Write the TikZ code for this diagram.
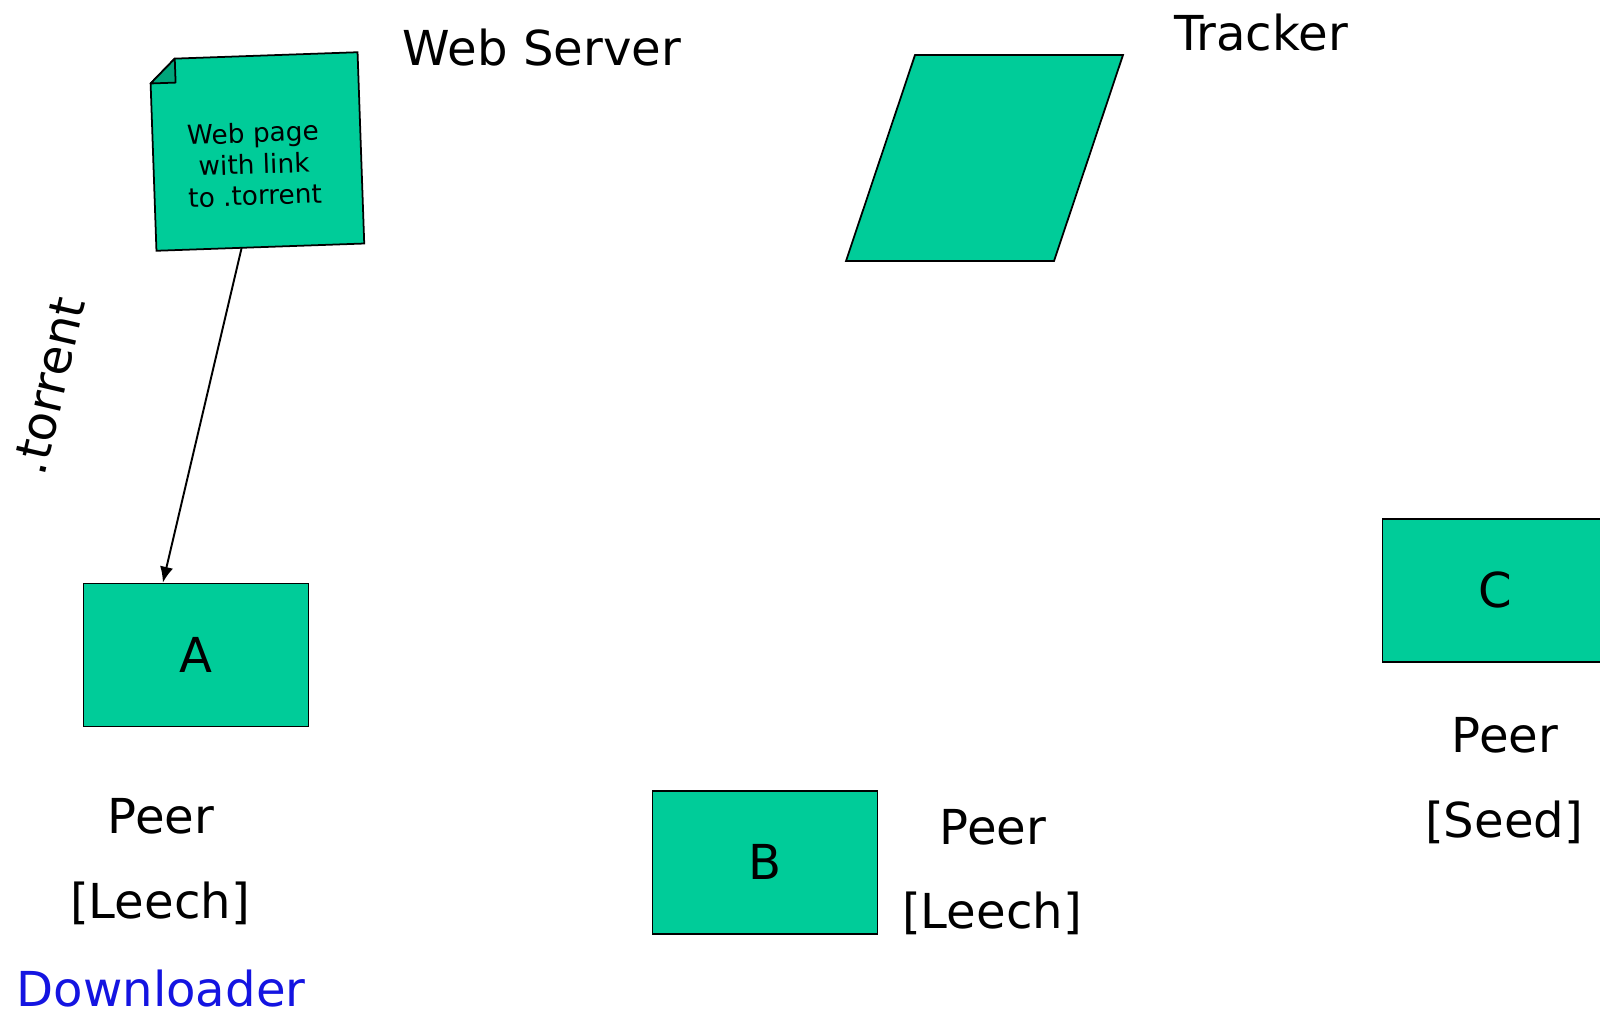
\documentclass[tikz,border=0pt]{standalone}
\usepackage{fontspec}
\setmainfont{DejaVu Sans}
\usetikzlibrary{arrows.meta,calc}
\definecolor{peergreen}{RGB}{0,204,153}
\definecolor{folddark}{RGB}{0,165,122}
\definecolor{linkblue}{RGB}{20,20,225}
\begin{document}
\begin{tikzpicture}[x=0.1mm,y=-0.1mm,
  peerbox/.style={draw, fill=peergreen, line width=0.5pt, minimum width=2.25cm,
    minimum height=1.43cm, inner sep=0pt, font=\fontsize{13.7}{16}\selectfont},
  lbl/.style={font=\fontsize{13.7}{16}\selectfont, inner sep=0pt},
  greenshape/.style={draw, fill=peergreen, line width=0.5pt, line join=miter}]
\useasboundingbox (0,0) rectangle (1600,1012);

% web page note with a folded corner
\node[rotate=2, minimum width=2.065cm, minimum height=1.9cm, inner sep=0pt] (web) at (257,151.5) {};
\coordinate (foldA) at ($(web.north west)!0.25cm!(web.north east)$);
\coordinate (foldB) at ($(web.north west)!0.24cm!(web.south west)$);
\coordinate (foldC) at ($(foldA)+(foldB)-(web.north west)$);
\filldraw[greenshape] (foldA) -- (web.north east) -- (web.south east) -- (web.south west) -- (foldB) -- cycle;
\filldraw[draw, fill=folddark, line width=0.5pt, line join=round] (foldA) -- (foldB) -- (foldC) -- cycle;
\node[rotate=2, align=center, font=\fontsize{7.5}{8.9}\selectfont, inner sep=0pt] (webtext) at (254,164)
  {Web page\\with link\\ to .torrent};
\node[lbl] (webserver) at (542,48) {Web Server};

% tracker
\coordinate (trk-sw) at (846,261);
\coordinate (trk-nw) at (915,55);
\coordinate (trk-ne) at (1123,55);
\coordinate (trk-se) at (1054,261);
\filldraw[greenshape] (trk-sw) -- (trk-nw) -- (trk-ne) -- (trk-se) -- cycle;
\node[lbl] (tracker) at (1261,33) {Tracker};

% peers
\node[peerbox] (A) at (196,655) {A};
\node[peerbox] (B) at (765,862.4) {B};
\node[peerbox] (C) at (1495,590.4) {C};

\node[lbl] (peerA) at (161,816) {Peer};
\node[lbl] (leechA) at (160,903) {[Leech]};
\node[lbl, text=linkblue] (down) at (161,989) {Downloader};

\node[lbl] (peerB) at (993,827) {Peer};
\node[lbl] (leechB) at (992,913) {[Leech]};

\node[lbl] (peerC) at (1505,735) {Peer};
\node[lbl] (seedC) at (1504,822) {[Seed]};

% .torrent download
\coordinate (src) at ($(web.south west)!0.41!(web.south east)$);
\coordinate (dst) at ($(A.north west)!0.354!(A.north east)$);
\draw[-{Latex[length=4.5pt,width=3.8pt]}, line width=0.55pt] (src) -- (dst);
\node[lbl, rotate=77] (torrent) at (49,386) {.torrent};
\end{tikzpicture}
\end{document}
